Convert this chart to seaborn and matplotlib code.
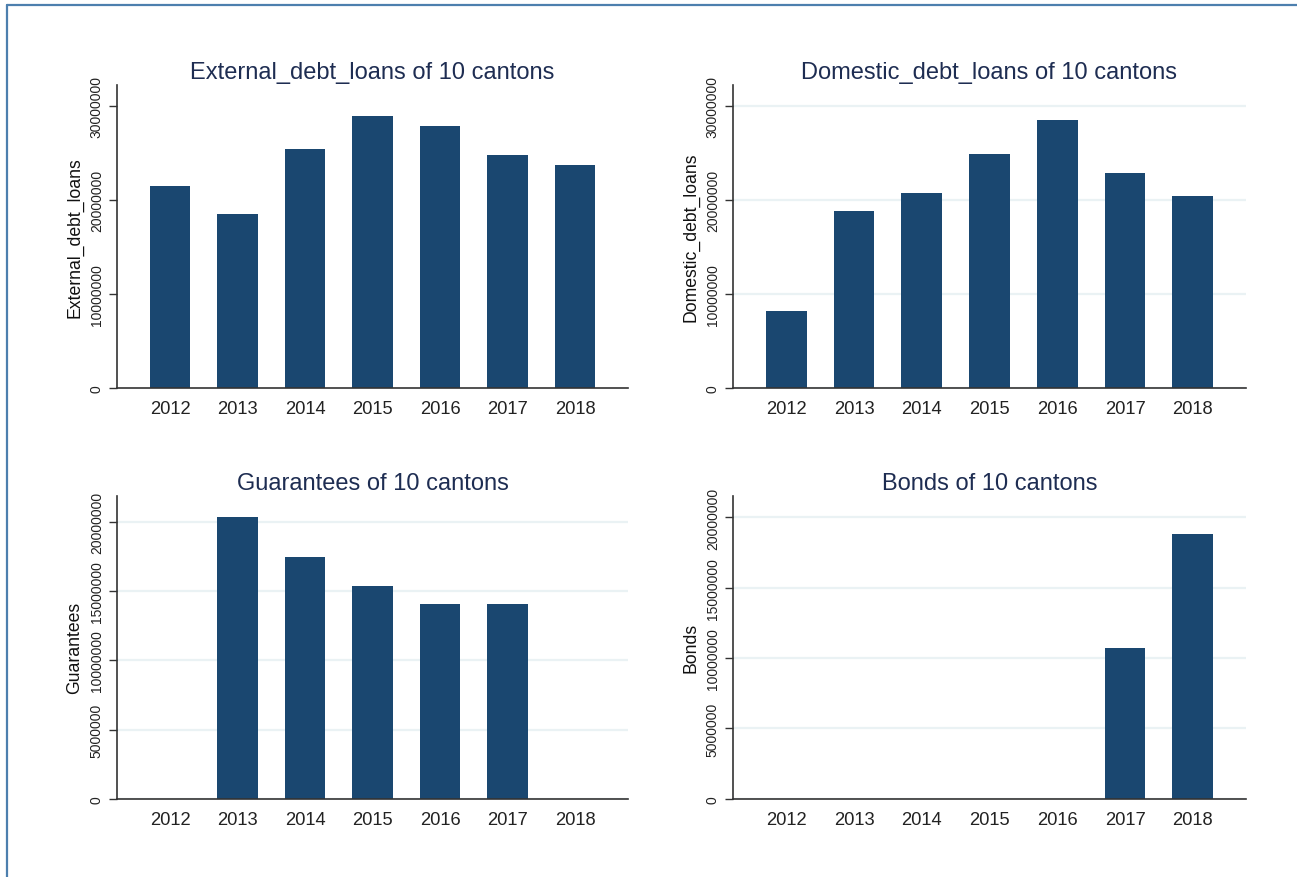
import matplotlib
matplotlib.use("Agg")
import matplotlib.pyplot as plt
from matplotlib.lines import Line2D
import seaborn as sns
import pandas as pd

years = ["2012", "2013", "2014", "2015", "2016", "2017", "2018"]
external_debt_loans = [21500000, 18500000, 25400000, 29000000, 27900000, 24800000, 23700000]
domestic_debt_loans = [8200000, 18900000, 20800000, 24900000, 28500000, 22900000, 20400000]
guarantees = [0, 20350000, 17500000, 15400000, 14050000, 14050000, 0]
bonds = [0, 0, 0, 0, 0, 10750000, 18800000]

titles = ["External_debt_loans of 10 cantons", "Domestic_debt_loans of 10 cantons",
          "Guarantees of 10 cantons", "Bonds of 10 cantons"]
ylabels = ["External_debt_loans", "Domestic_debt_loans", "Guarantees", "Bonds"]
series = [external_debt_loans, domestic_debt_loans, guarantees, bonds]
yticks = [[0, 10000000, 20000000, 30000000], [0, 10000000, 20000000, 30000000],
          [0, 5000000, 10000000, 15000000, 20000000], [0, 5000000, 10000000, 15000000, 20000000]]
ytops = [32300000, 32300000, 21900000, 21550000]
grids = [False, True, True, True]

sns.set_theme(style="white")
plt.rcParams["font.family"] = ["Liberation Sans", "DejaVu Sans"]

W, H = 1297, 878
fig = plt.figure(figsize=(W / 100, H / 100), dpi=100)

boxes = [(117, 628, 85.7, 389), (733, 1246, 85.7, 389),
         (117, 628, 496.7, 799.7), (733, 1246, 496.7, 799.7)]

bar_color = "#1a4770"
title_color = "#1e2d52"

for i in range(4):
    x0, x1, y0, y1 = boxes[i]
    ax = fig.add_axes([x0 / W, (H - y1) / H, (x1 - x0) / W, (y1 - y0) / H])
    df = pd.DataFrame({"year": years, "value": series[i]})
    sns.barplot(data=df, x="year", y="value", order=years, color=bar_color,
                saturation=1, width=0.6, ax=ax, errorbar=None, linewidth=0)
    ax.set_xlim(-0.785, 6.785)
    ax.set_ylim(0, ytops[i])
    ax.set_yticks(yticks[i])
    ax.set_yticklabels([str(v) for v in yticks[i]], rotation=90, va="center",
                       fontsize=10, color="#222222")
    ax.tick_params(axis="y", length=6, width=1.0, color="#333333", pad=3.5, left=True)
    ax.tick_params(axis="x", length=0, pad=9, labelsize=13.2, colors="#222222")
    ax.set_xlabel("")
    ax.set_ylabel(ylabels[i], fontsize=12.7, color="#111111", labelpad=4.5)
    ax.set_title(titles[i], fontsize=17, color=title_color, pad=5)
    for s in ["top", "right"]:
        ax.spines[s].set_visible(False)
    for s in ["left", "bottom"]:
        ax.spines[s].set_color("#333333")
        ax.spines[s].set_linewidth(1.2)
    if grids[i]:
        ax.yaxis.grid(True, color="#eaf2f4", linewidth=1.6)
    else:
        ax.yaxis.grid(False)
    ax.xaxis.grid(False)
    ax.set_axisbelow(True)

frame_color = "#4d7fae"
fig.add_artist(Line2D([6.5 / W, 6.5 / W], [0, 1 - 5.5 / H], transform=fig.transFigure,
                      color=frame_color, linewidth=1.6))
fig.add_artist(Line2D([6.5 / W, 1], [1 - 5.5 / H, 1 - 5.5 / H], transform=fig.transFigure,
                      color=frame_color, linewidth=1.6))

fig.savefig("out.png", dpi=100, facecolor="white")
